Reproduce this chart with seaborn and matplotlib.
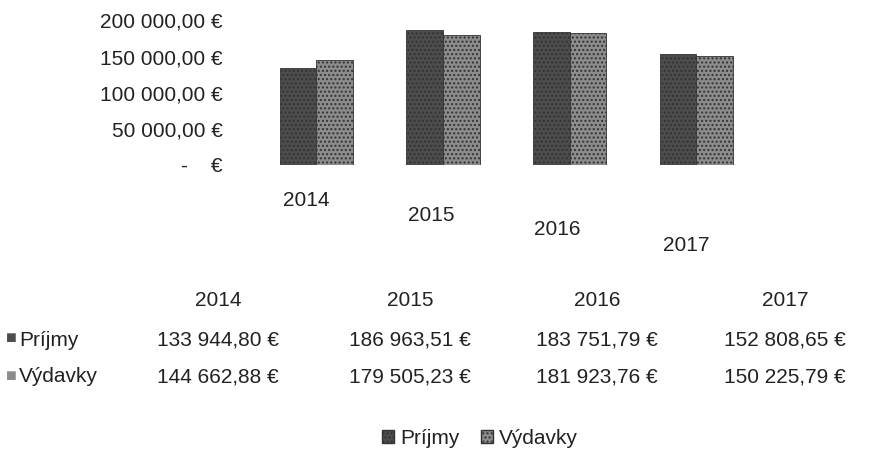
import matplotlib
matplotlib.use("Agg")
import matplotlib.pyplot as plt
import matplotlib.transforms as mtransforms
from matplotlib.ticker import FuncFormatter
from matplotlib.patches import Patch
import seaborn as sns
import pandas as pd

years = ["2014", "2015", "2016", "2017"]
prijmy = [133944.80, 186963.51, 183751.79, 152808.65]
vydavky = [144662.88, 179505.23, 181923.76, 150225.79]
series_names = ["Príjmy", "Výdavky"]
yticks = [0, 50000, 100000, 150000, 200000]

sns.set_theme(style="white")
plt.rcParams["font.family"] = ["Liberation Sans", "DejaVu Sans"]

def eur(v):
    s = f"{v:,.2f}".replace(",", " ").replace(".", ",")
    return s + " €"

def eur_axis(v, pos=None):
    if v == 0:
        return "-    €"
    return eur(v)

df = pd.DataFrame({
    "Rok": years * 2,
    "Hodnota": prijmy + vydavky,
    "Séria": [series_names[0]] * 4 + [series_names[1]] * 4,
})

FS = 15
colors = ["#4d4d4d", "#8c8c8c"]
fig = plt.figure(figsize=(8.73, 4.54), dpi=100)
ax = fig.add_axes([0.29, 0.637, 0.58, 0.318])
sns.barplot(data=df, x="Rok", y="Hodnota", hue="Séria", palette=colors,
            ax=ax, width=0.58, gap=0, legend=False, edgecolor="#333333",
            linewidth=0.6)
for bar in ax.patches:
    bar.set_hatch("....")
ax.set_ylim(0, 200000)
ax.set_yticks(yticks)
ax.yaxis.set_major_formatter(FuncFormatter(eur_axis))
ax.set_xlabel("")
ax.set_ylabel("")
for s in ax.spines.values():
    s.set_visible(False)
ax.tick_params(axis="y", labelsize=FS, colors="#222222", pad=22, length=0)
ax.tick_params(axis="x", labelsize=FS, colors="#222222", length=0, pad=19)
ax.grid(False)
offsets = [(-10, 0), (-12, 15), (-12, 29), (-10, 45)]
for lab, (dx, dy) in zip(ax.get_xticklabels(), offsets):
    lab.set_transform(lab.get_transform() +
                      mtransforms.ScaledTranslation(dx / 100, -dy / 100, fig.dpi_scale_trans))

# data table
col_x = [218, 410, 597, 785]
W, H = 873, 454
def fx(px):
    return px / W
def fy(py):
    return 1 - py / H

for x, yr in zip(col_x, years):
    fig.text(fx(x), fy(300), yr, ha="center", va="center", fontsize=FS, color="#222222")
rows = [(series_names[0], prijmy, 340, colors[0]), (series_names[1], vydavky, 377, colors[1])]
for name, vals, yy, c in rows:
    fig.text(fx(11), fy(yy - 1), "■", ha="center", va="center", fontsize=13, color=c)
    fig.text(fx(19), fy(yy), name, ha="left", va="center", fontsize=FS, color="#222222")
    for x, v in zip(col_x, vals):
        fig.text(fx(x), fy(yy), eur(v), ha="center", va="center", fontsize=FS, color="#222222")

handles = [Patch(facecolor=c, edgecolor="#333333", hatch="....", label=n)
           for c, n in zip(colors, series_names)]
fig.legend(handles=handles, loc="center", bbox_to_anchor=(fx(480), fy(438)),
           ncol=2, frameon=False, fontsize=FS, handlelength=0.6, handleheight=0.6,
           handletextpad=0.3, columnspacing=1.0, labelcolor="#222222")

fig.savefig("out.png", dpi=100)
